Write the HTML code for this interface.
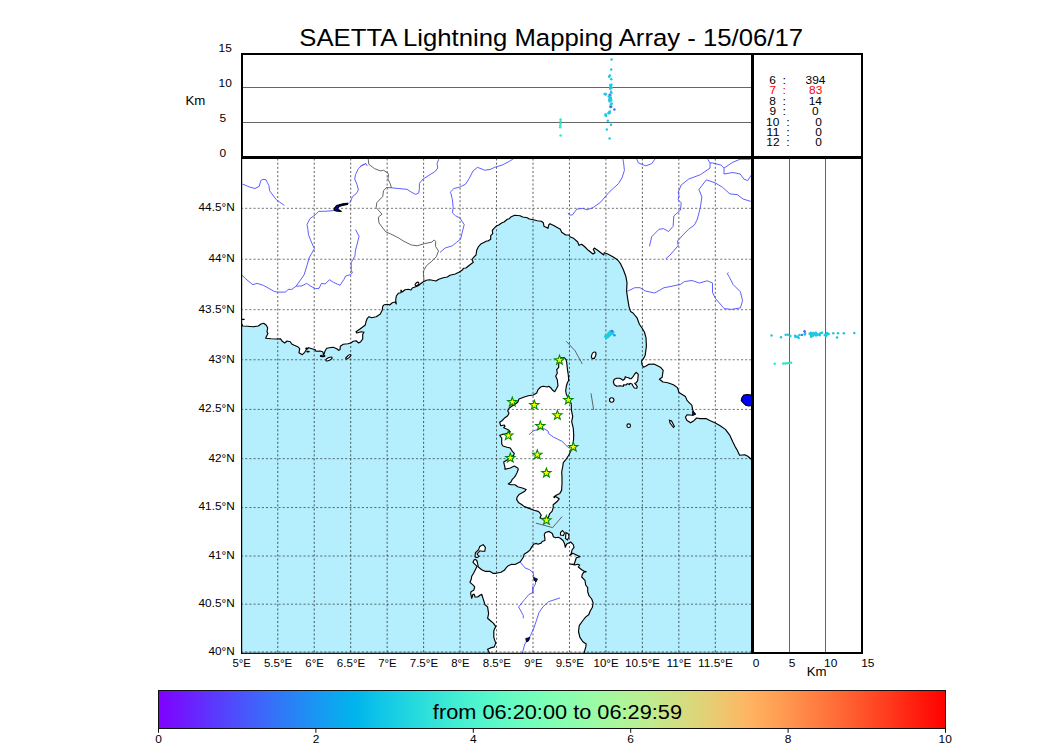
<!DOCTYPE html><html><head><meta charset="utf-8"><style>html,body{margin:0;padding:0;background:#fff;width:1050px;height:750px;overflow:hidden}svg{display:block}text{font-family:"Liberation Sans",sans-serif}</style></head><body>
<svg width="1050" height="750" viewBox="0 0 1050 750">
<rect width="1050" height="750" fill="#fff"/>
<text x="299.29" y="45.70" font-size="24.30" fill="#000" textLength="503.69" lengthAdjust="spacingAndGlyphs">SAETTA Lightning Mapping Array - 15/06/17</text>
<defs><clipPath id="mc"><rect x="241" y="157" width="511" height="496"/></clipPath></defs>
<g clip-path="url(#mc)">
<rect x="241" y="157" width="511" height="496" fill="#b5eefc"/>
<polygon points="230.0,157.0 760.0,157.0 760.0,463.0 756.0,463.0 751.2,459.3 747.8,456.3 744.8,454.8 739.6,455.2 737.3,450.3 735.1,446.6 732.9,442.1 729.9,435.4 725.4,429.4 720.2,425.7 714.9,422.7 709.7,420.5 706.0,418.6 700.0,418.6 696.6,418.0 694.2,420.4 690.6,422.8 687.0,420.4 685.4,417.2 687.0,414.8 692.6,415.2 695.4,414.0 693.4,411.6 692.6,409.2 691.8,405.2 689.4,402.8 687.0,400.4 685.4,396.4 682.2,394.4 679.0,392.4 677.4,387.6 673.4,384.8 667.8,382.8 663.0,382.0 659.4,379.2 662.2,377.2 662.6,374.0 663.2,370.4 660.4,367.2 654.0,364.0 648.4,364.4 646.0,366.0 643.6,367.2 642.0,364.8 641.6,360.8 643.2,359.2 645.2,355.2 646.4,346.4 646.0,337.6 644.4,332.0 642.0,328.0 639.4,324.2 637.0,317.8 633.0,313.0 630.6,311.4 629.0,306.6 627.8,299.4 626.6,291.4 627.0,282.6 625.8,276.2 623.4,269.8 620.3,263.3 617.7,260.0 613.7,257.3 608.3,254.3 604.3,252.7 603.7,255.0 598.3,250.7 594.3,248.0 593.3,249.3 595.0,252.7 593.0,254.0 588.3,250.3 585.0,247.0 581.7,244.3 579.0,245.3 577.7,242.0 573.7,238.3 570.3,237.0 569.0,235.0 565.7,235.0 561.7,232.3 560.3,229.3 555.0,226.3 554.7,226.0 550.0,223.7 548.7,225.0 548.0,228.3 544.0,226.3 543.3,222.7 541.3,221.3 537.3,220.7 533.3,219.7 529.3,219.0 527.3,217.7 522.7,217.0 520.0,215.7 514.7,215.3 511.3,216.7 509.3,218.7 507.3,219.3 504.0,222.0 502.0,222.7 498.7,225.0 496.7,225.7 494.0,228.3 492.3,230.3 492.7,233.7 490.7,235.7 490.7,239.3 488.0,241.0 486.7,241.0 481.3,243.7 478.7,246.3 476.7,250.3 476.0,255.0 473.3,257.7 472.0,259.7 473.3,262.3 468.7,265.7 466.0,268.0 463.3,268.3 462.7,269.7 459.3,272.0 455.3,274.0 450.0,275.3 447.3,277.0 443.3,277.7 438.7,279.3 436.0,281.0 429.7,279.7 426.3,280.3 423.0,282.0 420.3,284.0 417.7,286.0 415.0,287.0 412.3,288.0 411.0,290.0 408.3,289.3 405.0,289.7 402.3,292.0 401.0,290.0 401.0,292.7 398.3,293.3 396.3,296.0 395.7,300.0 396.3,304.0 395.0,302.0 392.3,302.7 389.7,305.0 387.7,304.3 384.3,304.7 382.7,306.3 382.3,310.0 380.3,314.0 376.3,316.7 371.7,317.7 369.0,316.7 367.3,318.3 366.0,321.7 365.3,325.0 362.7,327.0 360.0,329.0 356.0,331.7 356.7,333.0 361.3,331.7 364.0,332.3 362.7,334.3 362.7,339.0 360.7,341.7 358.7,343.0 356.0,340.7 353.3,341.3 350.7,343.0 348.0,343.7 343.3,344.3 340.3,346.3 340.0,349.7 338.7,350.3 336.7,348.7 333.3,347.3 329.3,347.7 326.7,348.3 325.0,351.0 323.7,355.0 322.7,351.7 320.0,351.0 316.0,351.3 315.3,349.7 312.0,348.7 308.7,347.7 306.7,349.0 304.7,352.3 302.3,354.7 299.0,352.7 299.7,348.7 297.7,346.7 294.3,345.3 291.7,344.0 290.3,341.7 287.0,341.0 284.7,343.0 282.3,341.3 280.3,338.7 277.0,339.0 271.0,338.7 265.7,338.3 266.3,336.7 268.0,333.3 267.0,332.0 267.3,330.0 267.7,328.0 266.3,325.3 263.7,323.3 261.0,324.0 258.3,326.0 253.0,326.7 247.7,326.3 242.7,326.0 241.4,323.3 240.0,323.3 230.0,323.3" fill="#fff" stroke="none"/>
<polygon points="489.5,654.0 489.5,653.0 487.6,649.3 490.5,647.9 494.3,646.9 495.7,643.1 493.8,637.4 493.8,630.7 495.7,626.4 493.3,623.1 490.5,620.7 487.6,618.3 488.6,613.6 487.6,606.9 485.0,604.7 483.0,598.3 481.7,594.3 480.3,595.0 477.7,597.0 475.0,597.0 474.3,594.3 473.0,594.3 471.7,598.3 470.7,593.7 471.0,591.7 473.7,590.3 474.7,587.0 473.7,585.7 470.0,582.3 471.3,579.0 471.7,576.3 473.7,573.0 475.7,569.0 477.0,566.3 475.0,564.3 473.0,562.3 474.0,560.0 475.5,559.3 477.0,561.0 477.5,563.0 478.3,567.0 481.7,569.7 485.0,571.3 489.7,571.3 493.0,573.3 496.3,573.3 501.0,572.3 504.3,570.3 506.3,567.7 508.3,565.7 511.7,564.3 515.0,564.5 520.3,561.8 523.5,557.0 524.1,554.3 527.3,552.2 529.9,550.1 531.5,547.4 533.7,544.2 536.3,543.4 537.9,544.2 541.1,543.1 542.2,541.5 544.9,540.5 544.9,538.3 544.3,534.6 545.4,532.5 549.1,531.4 552.3,533.5 553.4,536.7 555.5,537.8 558.2,537.3 560.3,538.3 563.0,540.5 564.6,543.7 565.3,547.3 566.7,544.0 570.7,542.0 573.3,544.7 574.0,547.3 572.0,550.0 571.3,553.3 570.0,555.3 572.7,553.3 576.0,554.7 580.0,556.7 576.3,557.7 575.0,561.7 574.3,564.3 569.7,564.0 575.0,565.0 577.7,564.3 579.7,565.0 578.3,567.0 581.7,569.7 583.7,571.0 586.3,571.7 583.7,572.3 582.3,574.3 581.7,577.0 585.0,580.3 585.7,585.0 587.7,587.7 587.7,591.7 589.0,595.7 591.7,599.0 593.1,602.9 592.4,607.3 590.2,611.0 588.7,614.7 585.8,616.9 582.9,620.5 579.2,625.7 578.5,631.5 579.9,637.4 582.9,641.8 586.2,644.0 585.8,646.9 584.3,652.1 584.0,654.0 584.0,660.0 489.5,660.0" fill="#fff" stroke="none"/>
<polygon points="559.3,357.7 564.3,357.7 566.0,359.7 566.7,362.3 567.3,368.3 568.3,375.0 568.7,380.3 567.3,383.0 566.3,386.3 565.7,391.0 566.3,394.3 568.0,397.7 568.5,399.5 571.3,403.7 571.3,409.7 572.7,416.3 571.7,421.7 573.3,428.3 573.7,435.0 573.5,440.0 572.7,446.7 570.7,451.3 568.7,455.3 566.0,459.3 563.3,462.7 562.7,466.7 561.7,472.0 562.0,477.3 562.0,483.3 561.6,490.4 559.8,493.4 556.2,495.2 553.8,497.0 554.4,497.6 555.6,496.4 559.2,498.8 557.4,501.2 553.2,504.8 553.2,507.8 552.0,511.4 549.6,513.8 548.4,517.4 543.0,518.6 540.0,518.0 541.2,515.0 540.0,513.2 538.2,511.4 534.0,510.2 529.2,508.4 524.4,506.6 522.0,504.8 518.4,502.4 516.6,499.4 517.2,497.0 519.0,494.6 524.4,491.6 526.2,489.5 522.3,488.0 517.7,486.7 515.0,484.7 511.0,484.7 508.3,484.0 511.0,482.0 512.3,479.3 514.3,477.3 515.7,475.3 517.0,472.7 518.3,469.3 517.7,468.0 514.3,466.0 510.3,468.0 505.0,469.3 505.0,467.3 504.3,464.7 503.7,462.0 507.0,460.0 511.0,457.3 513.7,455.3 514.3,453.3 512.3,451.3 510.3,448.0 507.0,447.3 503.0,446.0 501.7,444.0 501.7,440.0 501.7,438.3 499.7,435.3 505.7,433.7 510.3,432.0 508.3,429.7 503.7,427.7 505.0,426.3 504.3,425.0 500.7,425.7 499.7,422.3 501.7,421.0 505.0,417.7 507.7,415.7 509.0,413.0 507.7,411.0 509.0,408.3 511.7,406.3 515.0,404.3 517.7,402.3 519.0,399.0 524.3,397.0 528.3,395.7 533.3,395.0 536.7,393.0 538.0,389.7 540.7,387.0 543.3,386.3 547.3,387.0 548.7,386.3 550.7,387.7 552.7,390.3 554.7,391.7 556.7,388.3 558.0,385.7 557.3,379.7 555.7,376.3 557.3,373.0 556.7,369.7 558.7,367.3 558.7,365.0" fill="#fff" stroke="none"/>
<polygon points="613.3,382.0 614.3,379.3 616.7,378.3 619.7,378.2 621.7,379.3 623.0,380.3 624.7,379.0 625.3,376.7 626.3,377.3 628.7,377.7 630.0,378.7 631.3,378.7 633.3,376.3 634.7,374.0 636.3,372.3 638.3,374.3 638.0,377.3 637.7,380.7 636.3,382.7 634.7,383.3 636.3,385.0 637.3,386.7 636.7,388.3 634.3,388.0 633.0,386.0 632.0,384.0 630.0,383.3 629.3,384.7 628.7,384.0 627.3,383.7 626.0,385.0 623.7,384.7 623.3,386.3 620.0,385.7 616.7,386.3 614.3,384.7" fill="#fff" stroke="none"/>
<path d="M277.76,652.2V157M314.23,652.2V157M350.69,652.2V157M387.15,652.2V157M423.61,652.2V157M460.07,652.2V157M496.54,652.2V157M533.00,652.2V157M569.46,652.2V157M605.92,652.2V157M642.39,652.2V157M678.85,652.2V157M715.31,652.2V157" stroke="#000" stroke-opacity="0.62" stroke-width="1" stroke-dasharray="2.0833,2.0833" fill="none"/>
<path d="M241,651.95H752M241,604.18H752M241,556.04H752M241,507.55H752M241,458.67H752M241,409.41H752M241,359.76H752M241,309.70H752M241,259.22H752M241,208.32H752" stroke="#000" stroke-opacity="0.55" stroke-width="1" stroke-dasharray="2.0833,2.0833" fill="none"/>
<polyline points="240.0,323.3 241.4,323.3 242.7,326.0 247.7,326.3 253.0,326.7 258.3,326.0 261.0,324.0 263.7,323.3 266.3,325.3 267.7,328.0 267.3,330.0 267.0,332.0 268.0,333.3 266.3,336.7 265.7,338.3 271.0,338.7 277.0,339.0 280.3,338.7 282.3,341.3 284.7,343.0 287.0,341.0 290.3,341.7 291.7,344.0 294.3,345.3 297.7,346.7 299.7,348.7 299.0,352.7 302.3,354.7 304.7,352.3 306.7,349.0 308.7,347.7 312.0,348.7 315.3,349.7 316.0,351.3 320.0,351.0 322.7,351.7 323.7,355.0 325.0,351.0 326.7,348.3 329.3,347.7 333.3,347.3 336.7,348.7 338.7,350.3 340.0,349.7 340.3,346.3 343.3,344.3 348.0,343.7 350.7,343.0 353.3,341.3 356.0,340.7 358.7,343.0 360.7,341.7 362.7,339.0 362.7,334.3 364.0,332.3 361.3,331.7 356.7,333.0 356.0,331.7 360.0,329.0 362.7,327.0 365.3,325.0 366.0,321.7 367.3,318.3 369.0,316.7 371.7,317.7 376.3,316.7 380.3,314.0 382.3,310.0 382.7,306.3 384.3,304.7 387.7,304.3 389.7,305.0 392.3,302.7 395.0,302.0 396.3,304.0 395.7,300.0 396.3,296.0 398.3,293.3 401.0,292.7 401.0,290.0 402.3,292.0 405.0,289.7 408.3,289.3 411.0,290.0 412.3,288.0 415.0,287.0 417.7,286.0 420.3,284.0 423.0,282.0 426.3,280.3 429.7,279.7 436.0,281.0 438.7,279.3 443.3,277.7 447.3,277.0 450.0,275.3 455.3,274.0 459.3,272.0 462.7,269.7 463.3,268.3 466.0,268.0 468.7,265.7 473.3,262.3 472.0,259.7 473.3,257.7 476.0,255.0 476.7,250.3 478.7,246.3 481.3,243.7 486.7,241.0 488.0,241.0 490.7,239.3 490.7,235.7 492.7,233.7 492.3,230.3 494.0,228.3 496.7,225.7 498.7,225.0 502.0,222.7 504.0,222.0 507.3,219.3 509.3,218.7 511.3,216.7 514.7,215.3 520.0,215.7 522.7,217.0 527.3,217.7 529.3,219.0 533.3,219.7 537.3,220.7 541.3,221.3 543.3,222.7 544.0,226.3 548.0,228.3 548.7,225.0 550.0,223.7 554.7,226.0 555.0,226.3 560.3,229.3 561.7,232.3 565.7,235.0 569.0,235.0 570.3,237.0 573.7,238.3 577.7,242.0 579.0,245.3 581.7,244.3 585.0,247.0 588.3,250.3 593.0,254.0 595.0,252.7 593.3,249.3 594.3,248.0 598.3,250.7 603.7,255.0 604.3,252.7 608.3,254.3 613.7,257.3 617.7,260.0 620.3,263.3 623.4,269.8 625.8,276.2 627.0,282.6 626.6,291.4 627.8,299.4 629.0,306.6 630.6,311.4 633.0,313.0 637.0,317.8 639.4,324.2 642.0,328.0 644.4,332.0 646.0,337.6 646.4,346.4 645.2,355.2 643.2,359.2 641.6,360.8 642.0,364.8 643.6,367.2 646.0,366.0 648.4,364.4 654.0,364.0 660.4,367.2 663.2,370.4 662.6,374.0 662.2,377.2 659.4,379.2 663.0,382.0 667.8,382.8 673.4,384.8 677.4,387.6 679.0,392.4 682.2,394.4 685.4,396.4 687.0,400.4 689.4,402.8 691.8,405.2 692.6,409.2 693.4,411.6 695.4,414.0 692.6,415.2 687.0,414.8 685.4,417.2 687.0,420.4 690.6,422.8 694.2,420.4 696.6,418.0 700.0,418.6 706.0,418.6 709.7,420.5 714.9,422.7 720.2,425.7 725.4,429.4 729.9,435.4 732.9,442.1 735.1,446.6 737.3,450.3 739.6,455.2 744.8,454.8 747.8,456.3 751.2,459.3 756.0,463.0" fill="none" stroke="#000" stroke-width="1.15" stroke-linejoin="round"/>
<polygon points="559.3,357.7 564.3,357.7 566.0,359.7 566.7,362.3 567.3,368.3 568.3,375.0 568.7,380.3 567.3,383.0 566.3,386.3 565.7,391.0 566.3,394.3 568.0,397.7 568.5,399.5 571.3,403.7 571.3,409.7 572.7,416.3 571.7,421.7 573.3,428.3 573.7,435.0 573.5,440.0 572.7,446.7 570.7,451.3 568.7,455.3 566.0,459.3 563.3,462.7 562.7,466.7 561.7,472.0 562.0,477.3 562.0,483.3 561.6,490.4 559.8,493.4 556.2,495.2 553.8,497.0 554.4,497.6 555.6,496.4 559.2,498.8 557.4,501.2 553.2,504.8 553.2,507.8 552.0,511.4 549.6,513.8 548.4,517.4 543.0,518.6 540.0,518.0 541.2,515.0 540.0,513.2 538.2,511.4 534.0,510.2 529.2,508.4 524.4,506.6 522.0,504.8 518.4,502.4 516.6,499.4 517.2,497.0 519.0,494.6 524.4,491.6 526.2,489.5 522.3,488.0 517.7,486.7 515.0,484.7 511.0,484.7 508.3,484.0 511.0,482.0 512.3,479.3 514.3,477.3 515.7,475.3 517.0,472.7 518.3,469.3 517.7,468.0 514.3,466.0 510.3,468.0 505.0,469.3 505.0,467.3 504.3,464.7 503.7,462.0 507.0,460.0 511.0,457.3 513.7,455.3 514.3,453.3 512.3,451.3 510.3,448.0 507.0,447.3 503.0,446.0 501.7,444.0 501.7,440.0 501.7,438.3 499.7,435.3 505.7,433.7 510.3,432.0 508.3,429.7 503.7,427.7 505.0,426.3 504.3,425.0 500.7,425.7 499.7,422.3 501.7,421.0 505.0,417.7 507.7,415.7 509.0,413.0 507.7,411.0 509.0,408.3 511.7,406.3 515.0,404.3 517.7,402.3 519.0,399.0 524.3,397.0 528.3,395.7 533.3,395.0 536.7,393.0 538.0,389.7 540.7,387.0 543.3,386.3 547.3,387.0 548.7,386.3 550.7,387.7 552.7,390.3 554.7,391.7 556.7,388.3 558.0,385.7 557.3,379.7 555.7,376.3 557.3,373.0 556.7,369.7 558.7,367.3 558.7,365.0" fill="none" stroke="#000" stroke-width="1.15" stroke-linejoin="round"/>
<polygon points="613.3,382.0 614.3,379.3 616.7,378.3 619.7,378.2 621.7,379.3 623.0,380.3 624.7,379.0 625.3,376.7 626.3,377.3 628.7,377.7 630.0,378.7 631.3,378.7 633.3,376.3 634.7,374.0 636.3,372.3 638.3,374.3 638.0,377.3 637.7,380.7 636.3,382.7 634.7,383.3 636.3,385.0 637.3,386.7 636.7,388.3 634.3,388.0 633.0,386.0 632.0,384.0 630.0,383.3 629.3,384.7 628.7,384.0 627.3,383.7 626.0,385.0 623.7,384.7 623.3,386.3 620.0,385.7 616.7,386.3 614.3,384.7" fill="none" stroke="#000" stroke-width="1.15" stroke-linejoin="round"/>
<polyline points="489.5,654.0 489.5,653.0 487.6,649.3 490.5,647.9 494.3,646.9 495.7,643.1 493.8,637.4 493.8,630.7 495.7,626.4 493.3,623.1 490.5,620.7 487.6,618.3 488.6,613.6 487.6,606.9 485.0,604.7 483.0,598.3 481.7,594.3 480.3,595.0 477.7,597.0 475.0,597.0 474.3,594.3 473.0,594.3 471.7,598.3 470.7,593.7 471.0,591.7 473.7,590.3 474.7,587.0 473.7,585.7 470.0,582.3 471.3,579.0 471.7,576.3 473.7,573.0 475.7,569.0 477.0,566.3 475.0,564.3 473.0,562.3 474.0,560.0 475.5,559.3 477.0,561.0 477.5,563.0 478.3,567.0 481.7,569.7 485.0,571.3 489.7,571.3 493.0,573.3 496.3,573.3 501.0,572.3 504.3,570.3 506.3,567.7 508.3,565.7 511.7,564.3 515.0,564.5 520.3,561.8 523.5,557.0 524.1,554.3 527.3,552.2 529.9,550.1 531.5,547.4 533.7,544.2 536.3,543.4 537.9,544.2 541.1,543.1 542.2,541.5 544.9,540.5 544.9,538.3 544.3,534.6 545.4,532.5 549.1,531.4 552.3,533.5 553.4,536.7 555.5,537.8 558.2,537.3 560.3,538.3 563.0,540.5 564.6,543.7 565.3,547.3 566.7,544.0 570.7,542.0 573.3,544.7 574.0,547.3 572.0,550.0 571.3,553.3 570.0,555.3 572.7,553.3 576.0,554.7 580.0,556.7 576.3,557.7 575.0,561.7 574.3,564.3 569.7,564.0 575.0,565.0 577.7,564.3 579.7,565.0 578.3,567.0 581.7,569.7 583.7,571.0 586.3,571.7 583.7,572.3 582.3,574.3 581.7,577.0 585.0,580.3 585.7,585.0 587.7,587.7 587.7,591.7 589.0,595.7 591.7,599.0 593.1,602.9 592.4,607.3 590.2,611.0 588.7,614.7 585.8,616.9 582.9,620.5 579.2,625.7 578.5,631.5 579.9,637.4 582.9,641.8 586.2,644.0 585.8,646.9 584.3,652.1 584.0,654.0" fill="none" stroke="#000" stroke-width="1.15" stroke-linejoin="round"/>
<g fill="#fff" stroke="#000" stroke-width="1.1"><ellipse cx="593.7" cy="355.3" rx="2.0" ry="3.4" transform="rotate(20 593.7 355.3)"/><ellipse cx="611.7" cy="400" rx="2.2" ry="2.2"/><ellipse cx="628.7" cy="425.7" rx="1.8" ry="1.8"/><ellipse cx="322.6" cy="355.9" rx="2.4" ry="0.7"/><ellipse cx="329" cy="359" rx="3.4" ry="1.3" transform="rotate(-25 329 359)"/><ellipse cx="348.3" cy="356.8" rx="3.2" ry="1.1" transform="rotate(-40 348.3 356.8)"/><ellipse cx="417" cy="284" rx="2.2" ry="1.3" transform="rotate(-40 417 284)"/><polygon points="669.5,420.2 671.5,421 674.4,426.5 673.5,427.5 670,423"/><polygon points="483.2,544.6 485.4,547.4 484.8,551.2 482.2,551.2 479.8,550.8 477,554 479,556.4 477,557.6 475,556.8 475.4,552.8 478.6,549.6 479.8,546.4"/><polygon points="562.5,530.5 564.5,533 563.5,535.5 560.5,535 560.5,532.5"/><polygon points="566,532.5 568.5,534 569,537 567.5,540 565.5,538.5"/></g>
<path d="M241,319.4H244.6" stroke="#000" stroke-width="1.3"/>
<g fill="#000"><ellipse cx="306.8" cy="348.5" rx="1.6" ry="1"/><ellipse cx="308" cy="351.6" rx="1.8" ry="0.9"/></g>
<polyline points="368.0,157.0 368.8,164.3 374.7,168.7 380.5,170.9 383.5,170.2 387.9,173.1 388.6,174.6 387.9,179.0 390.1,183.4 391.5,187.8 386.4,187.5 383.5,190.7 382.7,196.6 376.9,202.5 376.1,207.6 382.0,214.2 378.3,217.2 379.0,223.0 385.7,231.8 390.8,234.0 398.2,237.7 404.0,241.4 411.4,245.0 417.2,245.8 424.6,243.6 431.9,242.1 434.1,239.9 435.6,241.4 435.6,246.5 438.5,250.9 436.3,256.8 431.9,261.2 426.5,265.6 423.3,271.3 424.0,280.7" fill="none" stroke="#555" stroke-width="0.9" stroke-linejoin="round"/>
<polyline points="566.3,341.3 575.0,350.7 582.3,364.0" fill="none" stroke="#555" stroke-width="0.9" stroke-linejoin="round"/>
<polyline points="591.0,393.3 593.7,410.0" fill="none" stroke="#555" stroke-width="0.9" stroke-linejoin="round"/>
<polyline points="535.8,523.1 552.6,527.6 562.2,516.5" fill="none" stroke="#555" stroke-width="0.9" stroke-linejoin="round"/>
<polyline points="242.5,184.1 249.8,187.1 254.9,188.5 259.3,186.3 260.8,180.5 263.0,179.3 266.0,179.7 267.4,182.7 268.9,185.6 269.6,190.7 276.2,199.6 284.3,205.4" fill="none" stroke="#4d4dff" stroke-width="0.9" stroke-linejoin="round"/>
<polyline points="360.0,166.5 364.4,164.3 365.9,163.6 367.3,165.8" fill="none" stroke="#4d4dff" stroke-width="0.9" stroke-linejoin="round"/>
<polyline points="365.7,163.6 361.3,165.8 358.4,168.7 355.5,174.6 354.7,179.0 356.9,184.1 358.4,190.0 356.2,193.7 352.5,196.6 350.3,201.8 349.6,203.2" fill="none" stroke="#4d4dff" stroke-width="0.9" stroke-linejoin="round"/>
<polyline points="333.4,210.6 324.6,211.3 318.8,211.3 315.1,215.0 310.0,218.6 307.0,224.5 307.8,228.9 308.5,234.8 311.4,242.1 314.4,248.7 311.4,253.8 309.1,258.0 307.2,264.9 304.1,274.8 296.1,286.2" fill="none" stroke="#4d4dff" stroke-width="0.9" stroke-linejoin="round"/>
<polyline points="355.5,229.6 359.1,236.2 356.9,245.0 355.5,250.0 354.9,256.2 351.2,262.4 351.2,269.8 352.4,272.9 350.0,274.8" fill="none" stroke="#4d4dff" stroke-width="0.9" stroke-linejoin="round"/>
<polyline points="242.2,275.4 246.0,279.1 252.8,284.7 257.1,283.4 263.3,285.3 274.4,291.5 278.1,292.1 285.6,292.1 288.0,289.4 291.8,289.4 296.1,286.2 301.7,285.9 306.6,283.4 310.3,285.9 315.3,288.6 319.0,288.4 321.5,283.4 325.2,284.0 329.5,279.7 333.2,282.2 340.0,285.3 343.8,279.7 345.6,276.0 350.0,274.8" fill="none" stroke="#4d4dff" stroke-width="0.9" stroke-linejoin="round"/>
<polyline points="391.5,187.8 398.2,188.5 407.0,189.3 411.4,192.2 415.8,194.4 418.7,193.0 419.4,188.5 419.4,183.4 423.1,179.0 429.0,175.3 434.8,171.7 437.8,168.0 437.0,163.6 438.5,159.9 439.0,157.0" fill="none" stroke="#4d4dff" stroke-width="0.9" stroke-linejoin="round"/>
<polyline points="440.0,252.4 445.1,248.0 452.4,245.8 456.8,242.1 460.5,239.2 462.0,233.3 464.2,224.5 459.8,217.9 455.4,215.7 452.4,212.8 453.2,207.6 452.4,199.6 451.0,193.7 450.2,192.2 453.9,188.5 459.8,187.1 465.6,184.1 469.3,178.3 473.0,171.0 477.4,167.3 484.7,170.2 490.0,169.5 494.7,167.3 502.0,165.1 509.3,161.4 513.7,158.5 515.0,157.0" fill="none" stroke="#4d4dff" stroke-width="0.9" stroke-linejoin="round"/>
<polyline points="568.0,212.8 569.5,215.0 572.4,215.0 576.8,209.1 582.7,208.4 587.1,209.8 593.0,207.6 600.3,202.5 608.9,192.4 618.5,183.6 622.1,177.7 624.4,170.3 623.6,162.9 622.9,159.2 622.5,157.0" fill="none" stroke="#4d4dff" stroke-width="0.9" stroke-linejoin="round"/>
<polyline points="636.2,158.0 638.4,162.9 645.8,165.9 651.7,163.6 655.4,158.5" fill="none" stroke="#4d4dff" stroke-width="0.9" stroke-linejoin="round"/>
<polyline points="649.5,246.3 651.7,236.7 659.0,229.3 663.5,228.6 668.6,231.5 673.1,226.4 673.8,216.0 680.5,210.1 681.2,202.8 678.2,199.8 679.0,195.4 678.2,192.4 681.2,185.0 688.6,179.1 700.4,174.7 710.0,168.1 710.0,162.9 707.8,159.2 706.0,157.0" fill="none" stroke="#4d4dff" stroke-width="0.9" stroke-linejoin="round"/>
<polyline points="710.0,163.0 712.2,162.9 721.1,165.1 724.0,168.1 724.0,174.0 732.9,172.5 740.2,174.0 743.9,179.1 747.6,180.6 750.6,176.2 752.0,174.0" fill="none" stroke="#4d4dff" stroke-width="0.9" stroke-linejoin="round"/>
<polyline points="724.0,168.1 732.9,162.2 740.2,159.2 750.6,159.2" fill="none" stroke="#4d4dff" stroke-width="0.9" stroke-linejoin="round"/>
<polyline points="665.7,258.9 670.0,255.1 678.2,245.6 677.5,241.1 682.7,235.2 688.6,229.3 694.5,224.9 697.4,219.0 700.4,207.2 701.9,196.9 698.9,189.5 706.3,179.9 715.1,182.8 722.5,187.3 729.9,193.9 737.3,194.6 743.2,199.1 750.6,201.3 752.0,201.5" fill="none" stroke="#4d4dff" stroke-width="0.9" stroke-linejoin="round"/>
<polyline points="627.3,291.4 634.7,287.7 640.0,287.7 645.3,291.0 654.7,293.0 664.0,287.7 670.0,286.6 680.3,284.4 684.7,281.5 692.0,280.5 699.3,283.0 707.4,280.8 712.5,283.0 712.5,292.5 715.4,298.4 724.2,308.6 731.6,309.4 740.4,307.9 742.6,300.6 740.4,291.8 733.0,284.4 729.4,277.1 727.2,273.5 728.6,272.7" fill="none" stroke="#4d4dff" stroke-width="0.9" stroke-linejoin="round"/>
<polyline points="529.0,434.7 533.7,430.7 540.3,428.7 543.3,428.3 548.0,431.0 548.7,433.7 553.3,437.0 557.3,439.0 562.7,441.7 565.3,444.7 569.5,448.5" fill="none" stroke="#4d4dff" stroke-width="0.9" stroke-linejoin="round"/>
<polyline points="520.2,562.1 525.0,567.9 529.8,569.8 533.1,572.6 533.6,576.4 535.5,579.8 535.5,584.0 533.1,587.9 532.6,592.6 528.8,594.5 524.8,599.3 518.6,606.9 523.3,615.5 523.3,618.3" fill="none" stroke="#4d4dff" stroke-width="0.9" stroke-linejoin="round"/>
<polyline points="533.3,593.1 532.4,586.4" fill="none" stroke="#4d4dff" stroke-width="0.9" stroke-linejoin="round"/>
<polyline points="560.0,597.9 548.6,601.7 542.9,606.9 539.0,612.6 536.2,621.2 534.3,626.9 530.5,635.5 527.5,640.0 524.8,644.0 522.4,653.0" fill="none" stroke="#4d4dff" stroke-width="0.9" stroke-linejoin="round"/>
<polygon points="347.9,203.4 344,203.6 340,204.6 336.6,205.6 334.6,208 333.9,210.1 336.8,211.1 341.3,211.4 339.2,210.1 337.2,209.2 338.8,206.8 342.7,205.3 347.4,204.5" fill="#0000dd" stroke="#000" stroke-width="1.2" stroke-linejoin="round"/>
<polygon points="692.4,411.4 695.6,414.2 692.6,415.4" fill="#0000cc" stroke="#000" stroke-width="0.8"/>
<polygon points="533.5,577.5 537.5,579 536,582 534,580" fill="#0000aa" stroke="#000" stroke-width="0.8"/>
<polygon points="525.7,638.5 530,637.5 528.5,641 526.5,642" fill="#0000aa" stroke="#000" stroke-width="0.8"/>
<g fill="#1ccde0"><circle cx="606.8" cy="335.9" r="1.4"/><circle cx="609.7" cy="333.0" r="1.4"/><circle cx="606.0" cy="336.9" r="1.4"/><circle cx="608.0" cy="336.2" r="1.4"/><circle cx="611.0" cy="333.1" r="1.4"/><circle cx="606.4" cy="337.7" r="1.4"/><circle cx="609.4" cy="335.0" r="1.4"/><circle cx="606.1" cy="337.5" r="1.4"/><circle cx="605.9" cy="336.8" r="1.4"/><circle cx="609.0" cy="335.8" r="1.4"/><circle cx="611.2" cy="333.2" r="1.4"/><circle cx="610.6" cy="334.1" r="1.4"/><circle cx="610.3" cy="331.6" r="1.4"/><circle cx="607.8" cy="336.2" r="1.4"/><circle cx="609.0" cy="334.0" r="1.4"/><circle cx="607.4" cy="335.6" r="1.4"/><circle cx="610.3" cy="334.7" r="1.4"/><circle cx="612.6" cy="333.5" r="1.4"/><circle cx="609.0" cy="334.6" r="1.4"/><circle cx="613.0" cy="332.2" r="1.4"/><circle cx="609.4" cy="334.3" r="1.4"/><circle cx="608.6" cy="333.1" r="1.4"/><circle cx="612.4" cy="331.6" r="1.4"/><circle cx="610.5" cy="332.0" r="1.4"/><circle cx="607.8" cy="336.9" r="1.4"/><circle cx="605.6" cy="336.2" r="1.4"/></g>
<circle cx="611.9" cy="331" r="1.2" fill="#6a60f0"/><circle cx="614.4" cy="335.2" r="1.3" fill="#3090f0"/>
<polygon points="559.5,355.2 560.7,358.6 564.2,358.7 561.4,360.8 562.4,364.2 559.5,362.2 556.6,364.2 557.6,360.8 554.8,358.7 558.3,358.6" fill="#ffff00" stroke="#008800" stroke-width="1.05" stroke-linejoin="miter"/>
<polygon points="512.3,397.1 513.5,400.4 517.0,400.5 514.2,402.6 515.2,406.0 512.3,404.0 509.4,406.0 510.4,402.6 507.6,400.5 511.1,400.4" fill="#ffff00" stroke="#008800" stroke-width="1.05" stroke-linejoin="miter"/>
<polygon points="534.3,400.2 535.5,403.5 539.0,403.6 536.2,405.7 537.2,409.1 534.3,407.1 531.4,409.1 532.4,405.7 529.6,403.6 533.1,403.5" fill="#ffff00" stroke="#008800" stroke-width="1.05" stroke-linejoin="miter"/>
<polygon points="568.3,395.1 569.5,398.4 573.0,398.5 570.2,400.6 571.2,404.0 568.3,402.0 565.4,404.0 566.4,400.6 563.6,398.5 567.1,398.4" fill="#ffff00" stroke="#008800" stroke-width="1.05" stroke-linejoin="miter"/>
<polygon points="557.4,410.4 558.6,413.7 562.1,413.8 559.3,415.9 560.3,419.3 557.4,417.3 554.5,419.3 555.5,415.9 552.7,413.8 556.2,413.7" fill="#ffff00" stroke="#008800" stroke-width="1.05" stroke-linejoin="miter"/>
<polygon points="540.3,421.1 541.5,424.4 545.0,424.5 542.2,426.6 543.2,430.0 540.3,428.0 537.4,430.0 538.4,426.6 535.6,424.5 539.1,424.4" fill="#ffff00" stroke="#008800" stroke-width="1.05" stroke-linejoin="miter"/>
<polygon points="508.3,430.7 509.5,434.0 513.0,434.1 510.2,436.2 511.2,439.6 508.3,437.6 505.4,439.6 506.4,436.2 503.6,434.1 507.1,434.0" fill="#ffff00" stroke="#008800" stroke-width="1.05" stroke-linejoin="miter"/>
<polygon points="510.3,453.1 511.5,456.4 515.0,456.5 512.2,458.6 513.2,462.0 510.3,460.0 507.4,462.0 508.4,458.6 505.6,456.5 509.1,456.4" fill="#ffff00" stroke="#008800" stroke-width="1.05" stroke-linejoin="miter"/>
<polygon points="537.3,449.8 538.5,453.1 542.0,453.2 539.2,455.3 540.2,458.7 537.3,456.7 534.4,458.7 535.4,455.3 532.6,453.2 536.1,453.1" fill="#ffff00" stroke="#008800" stroke-width="1.05" stroke-linejoin="miter"/>
<polygon points="573.3,442.1 574.5,445.4 578.0,445.5 575.2,447.6 576.2,451.0 573.3,449.0 570.4,451.0 571.4,447.6 568.6,445.5 572.1,445.4" fill="#ffff00" stroke="#008800" stroke-width="1.05" stroke-linejoin="miter"/>
<polygon points="546.4,468.1 547.6,471.4 551.1,471.5 548.3,473.6 549.3,477.0 546.4,475.0 543.5,477.0 544.5,473.6 541.7,471.5 545.2,471.4" fill="#ffff00" stroke="#008800" stroke-width="1.05" stroke-linejoin="miter"/>
<polygon points="546.4,515.3 547.6,518.7 551.1,518.8 548.3,520.9 549.3,524.3 546.4,522.3 543.5,524.3 544.5,520.9 541.7,518.8 545.2,518.7" fill="#ffff00" stroke="#008800" stroke-width="1.05" stroke-linejoin="miter"/>
<polygon points="741.3,400.7 742,397.5 743.8,395.2 747,394.5 752,395 754,400 752,405.5 748.9,406 745.7,405.2 743.8,403.3 742.2,401.7" fill="#0000ff" stroke="#000" stroke-width="1.2" stroke-linejoin="round"/>
</g>
<path d="M242,87.5H752M242,122.5H752" stroke="#666" stroke-width="1"/>
<g fill="#1ec8e0"><circle cx="611.6" cy="59.4" r="1.25"/><circle cx="611.2" cy="69.6" r="1.25"/><circle cx="609.8" cy="75.4" r="1.25"/><circle cx="609.2" cy="76.8" r="1.25"/><circle cx="611.2" cy="79.2" r="1.25"/><circle cx="611.0" cy="124.8" r="1.25"/><circle cx="606.8" cy="129.4" r="1.25"/><circle cx="609.6" cy="138.4" r="1.25"/><circle cx="607.8" cy="120.8" r="1.25"/><circle cx="610.9" cy="85.4" r="1.25"/><circle cx="611.4" cy="84.7" r="1.25"/><circle cx="611.2" cy="87.4" r="1.25"/><circle cx="610.4" cy="88.8" r="1.25"/><circle cx="610.4" cy="88.1" r="1.25"/><circle cx="610.4" cy="84.9" r="1.25"/><circle cx="611.0" cy="91.8" r="1.25"/><circle cx="610.5" cy="86.1" r="1.25"/><circle cx="611.4" cy="92.9" r="1.25"/><circle cx="611.3" cy="87.7" r="1.25"/><circle cx="605.8" cy="93.9" r="1.25"/><circle cx="605.6" cy="94.4" r="1.25"/><circle cx="604.7" cy="94.1" r="1.25"/><circle cx="609.6" cy="101.5" r="1.25"/><circle cx="609.2" cy="99.7" r="1.25"/><circle cx="610.8" cy="98.0" r="1.25"/><circle cx="610.5" cy="95.5" r="1.25"/><circle cx="608.8" cy="96.6" r="1.25"/><circle cx="610.9" cy="98.4" r="1.25"/><circle cx="609.7" cy="99.7" r="1.25"/><circle cx="610.1" cy="97.4" r="1.25"/><circle cx="611.3" cy="100.6" r="1.25"/><circle cx="609.4" cy="99.6" r="1.25"/><circle cx="610.5" cy="106.9" r="1.25"/><circle cx="611.0" cy="104.3" r="1.25"/><circle cx="611.7" cy="103.5" r="1.25"/><circle cx="610.2" cy="106.4" r="1.25"/><circle cx="608.8" cy="112.4" r="1.25"/><circle cx="608.7" cy="113.3" r="1.25"/><circle cx="609.7" cy="112.9" r="1.25"/><circle cx="609.8" cy="111.6" r="1.25"/><circle cx="605.7" cy="114.8" r="1.25"/><circle cx="605.5" cy="114.4" r="1.25"/><circle cx="606.0" cy="116.0" r="1.25"/></g>
<g fill="#30e6c4"><circle cx="560.6" cy="119.5" r="1.25"/><circle cx="560.6" cy="121.5" r="1.25"/><circle cx="560.5" cy="123.5" r="1.25"/><circle cx="560.3" cy="125.5" r="1.25"/><circle cx="560.2" cy="127.3" r="1.25"/><circle cx="560.6" cy="135.6" r="1.25"/></g>
<circle cx="611.2" cy="106.8" r="1.2" fill="#4a60f0"/><circle cx="614.4" cy="109.6" r="1.25" fill="#3a7af0"/><circle cx="609.6" cy="94.6" r="1.1" fill="#5a58f0"/>
<path d="M789.5,159V652M825.5,159V652" stroke="#666" stroke-width="1"/>
<g fill="#1ec8e0"><circle cx="771.5" cy="335.4" r="1.25"/><circle cx="781.0" cy="337.2" r="1.25"/><circle cx="785.7" cy="334.7" r="1.25"/><circle cx="787.8" cy="334.7" r="1.25"/><circle cx="790.4" cy="336.0" r="1.25"/><circle cx="826.0" cy="336.0" r="1.25"/><circle cx="828.6" cy="333.9" r="1.25"/><circle cx="833.3" cy="333.3" r="1.25"/><circle cx="838.0" cy="333.3" r="1.25"/><circle cx="837.0" cy="337.5" r="1.25"/><circle cx="843.8" cy="333.3" r="1.25"/><circle cx="854.3" cy="333.0" r="1.25"/><circle cx="797.6" cy="336.7" r="1.25"/><circle cx="795.3" cy="336.8" r="1.25"/><circle cx="798.6" cy="338.0" r="1.25"/><circle cx="799.5" cy="335.1" r="1.25"/><circle cx="797.1" cy="336.7" r="1.25"/><circle cx="795.1" cy="335.8" r="1.25"/><circle cx="805.1" cy="333.2" r="1.25"/><circle cx="804.7" cy="334.5" r="1.25"/><circle cx="805.0" cy="333.5" r="1.25"/><circle cx="816.7" cy="335.1" r="1.25"/><circle cx="811.0" cy="333.8" r="1.25"/><circle cx="819.7" cy="335.2" r="1.25"/><circle cx="824.7" cy="335.1" r="1.25"/><circle cx="814.7" cy="333.7" r="1.25"/><circle cx="816.1" cy="335.2" r="1.25"/><circle cx="827.2" cy="333.0" r="1.25"/><circle cx="812.8" cy="333.2" r="1.25"/><circle cx="813.8" cy="334.0" r="1.25"/><circle cx="820.4" cy="333.3" r="1.25"/><circle cx="809.6" cy="333.8" r="1.25"/><circle cx="816.3" cy="334.2" r="1.25"/><circle cx="827.1" cy="334.6" r="1.25"/><circle cx="819.0" cy="334.4" r="1.25"/><circle cx="822.0" cy="332.7" r="1.25"/><circle cx="826.1" cy="334.8" r="1.25"/><circle cx="825.7" cy="334.9" r="1.25"/><circle cx="816.8" cy="333.7" r="1.25"/><circle cx="811.4" cy="334.4" r="1.25"/><circle cx="810.7" cy="332.7" r="1.25"/><circle cx="813.4" cy="333.0" r="1.25"/><circle cx="815.8" cy="332.7" r="1.25"/><circle cx="811.0" cy="335.3" r="1.25"/><circle cx="811.8" cy="335.7" r="1.25"/><circle cx="811.2" cy="336.7" r="1.25"/><circle cx="815.6" cy="335.3" r="1.25"/><circle cx="812.9" cy="335.7" r="1.25"/></g>
<g fill="#30e6c4"><circle cx="774.7" cy="363.7" r="1.25"/><circle cx="783.2" cy="363.4" r="1.25"/><circle cx="785.2" cy="363.4" r="1.25"/><circle cx="787.2" cy="363.2" r="1.25"/><circle cx="789.2" cy="363.0" r="1.25"/><circle cx="791.0" cy="362.7" r="1.25"/></g>
<circle cx="801.9" cy="334.9" r="1.2" fill="#3a80f0"/><circle cx="804.5" cy="331.2" r="1.2" fill="#5a50f0"/>
<g fill="#000"><rect x="241" y="53" width="622" height="2"/><rect x="241" y="53" width="2" height="106"/><rect x="861" y="53" width="2" height="601"/><rect x="241" y="156" width="622" height="3"/><rect x="751" y="53" width="3" height="601"/><rect x="752" y="652" width="111" height="2"/><rect x="241" y="157" width="1.2" height="497"/><rect x="241" y="652.7" width="511" height="1.2"/></g>
<text x="769.35" y="84.00" font-size="11.05" fill="#000" textLength="6.63" lengthAdjust="spacingAndGlyphs">6</text>
<text x="782.64" y="84.00" font-size="11.05" fill="#000" textLength="3.51" lengthAdjust="spacingAndGlyphs">:</text>
<text x="805.55" y="84.00" font-size="11.05" fill="#000" textLength="19.89" lengthAdjust="spacingAndGlyphs">394</text>
<text x="769.40" y="93.80" font-size="11.05" fill="#f00" textLength="6.63" lengthAdjust="spacingAndGlyphs">7</text>
<text x="782.64" y="93.80" font-size="11.05" fill="#f00" textLength="3.51" lengthAdjust="spacingAndGlyphs">:</text>
<text x="809.03" y="93.80" font-size="11.05" fill="#f00" textLength="13.26" lengthAdjust="spacingAndGlyphs">83</text>
<text x="769.39" y="104.60" font-size="11.05" fill="#000" textLength="6.63" lengthAdjust="spacingAndGlyphs">8</text>
<text x="782.64" y="104.60" font-size="11.05" fill="#000" textLength="3.51" lengthAdjust="spacingAndGlyphs">:</text>
<text x="808.69" y="104.60" font-size="11.05" fill="#000" textLength="13.26" lengthAdjust="spacingAndGlyphs">14</text>
<text x="769.42" y="114.80" font-size="11.05" fill="#000" textLength="6.63" lengthAdjust="spacingAndGlyphs">9</text>
<text x="782.64" y="114.80" font-size="11.05" fill="#000" textLength="3.51" lengthAdjust="spacingAndGlyphs">:</text>
<text x="811.99" y="114.80" font-size="11.05" fill="#000" textLength="6.63" lengthAdjust="spacingAndGlyphs">0</text>
<text x="766.14" y="125.50" font-size="11.05" fill="#000" textLength="13.26" lengthAdjust="spacingAndGlyphs">10</text>
<text x="786.24" y="125.50" font-size="11.05" fill="#000" textLength="3.51" lengthAdjust="spacingAndGlyphs">:</text>
<text x="815.29" y="125.50" font-size="11.05" fill="#000" textLength="6.63" lengthAdjust="spacingAndGlyphs">0</text>
<text x="766.28" y="135.70" font-size="11.05" fill="#000" textLength="13.26" lengthAdjust="spacingAndGlyphs">11</text>
<text x="786.24" y="135.70" font-size="11.05" fill="#000" textLength="3.51" lengthAdjust="spacingAndGlyphs">:</text>
<text x="815.29" y="135.70" font-size="11.05" fill="#000" textLength="6.63" lengthAdjust="spacingAndGlyphs">0</text>
<text x="766.32" y="145.90" font-size="11.05" fill="#000" textLength="13.26" lengthAdjust="spacingAndGlyphs">12</text>
<text x="786.24" y="145.90" font-size="11.05" fill="#000" textLength="3.51" lengthAdjust="spacingAndGlyphs">:</text>
<text x="815.29" y="145.90" font-size="11.05" fill="#000" textLength="6.63" lengthAdjust="spacingAndGlyphs">0</text>
<text x="218.56" y="51.70" font-size="11.05" fill="#000" textLength="13.26" lengthAdjust="spacingAndGlyphs">15</text>
<text x="218.56" y="87.00" font-size="11.05" fill="#000" textLength="13.26" lengthAdjust="spacingAndGlyphs">10</text>
<text x="219.50" y="122.00" font-size="11.05" fill="#000" textLength="6.63" lengthAdjust="spacingAndGlyphs">5</text>
<text x="219.61" y="157.00" font-size="11.05" fill="#000" textLength="6.63" lengthAdjust="spacingAndGlyphs">0</text>
<text x="185.50" y="105.00" font-size="12.93" fill="#000" textLength="19.88" lengthAdjust="spacingAndGlyphs">Km</text>
<text x="208.46" y="654.85" font-size="11.05" fill="#000" textLength="26.26" lengthAdjust="spacingAndGlyphs">40°N</text>
<text x="198.52" y="607.08" font-size="11.05" fill="#000" textLength="36.21" lengthAdjust="spacingAndGlyphs">40.5°N</text>
<text x="208.46" y="558.94" font-size="11.05" fill="#000" textLength="26.26" lengthAdjust="spacingAndGlyphs">41°N</text>
<text x="198.52" y="510.45" font-size="11.05" fill="#000" textLength="36.21" lengthAdjust="spacingAndGlyphs">41.5°N</text>
<text x="208.46" y="461.57" font-size="11.05" fill="#000" textLength="26.26" lengthAdjust="spacingAndGlyphs">42°N</text>
<text x="198.52" y="412.31" font-size="11.05" fill="#000" textLength="36.21" lengthAdjust="spacingAndGlyphs">42.5°N</text>
<text x="208.46" y="362.66" font-size="11.05" fill="#000" textLength="26.26" lengthAdjust="spacingAndGlyphs">43°N</text>
<text x="198.52" y="312.60" font-size="11.05" fill="#000" textLength="36.21" lengthAdjust="spacingAndGlyphs">43.5°N</text>
<text x="208.46" y="262.12" font-size="11.05" fill="#000" textLength="26.26" lengthAdjust="spacingAndGlyphs">44°N</text>
<text x="198.52" y="211.22" font-size="11.05" fill="#000" textLength="36.21" lengthAdjust="spacingAndGlyphs">44.5°N</text>
<text x="232.42" y="667.00" font-size="11.05" fill="#000" textLength="18.42" lengthAdjust="spacingAndGlyphs">5°E</text>
<text x="263.91" y="667.00" font-size="11.05" fill="#000" textLength="28.36" lengthAdjust="spacingAndGlyphs">5.5°E</text>
<text x="305.38" y="667.00" font-size="11.05" fill="#000" textLength="18.42" lengthAdjust="spacingAndGlyphs">6°E</text>
<text x="336.87" y="667.00" font-size="11.05" fill="#000" textLength="28.36" lengthAdjust="spacingAndGlyphs">6.5°E</text>
<text x="378.24" y="667.00" font-size="11.05" fill="#000" textLength="18.42" lengthAdjust="spacingAndGlyphs">7°E</text>
<text x="409.74" y="667.00" font-size="11.05" fill="#000" textLength="28.36" lengthAdjust="spacingAndGlyphs">7.5°E</text>
<text x="451.24" y="667.00" font-size="11.05" fill="#000" textLength="18.42" lengthAdjust="spacingAndGlyphs">8°E</text>
<text x="482.73" y="667.00" font-size="11.05" fill="#000" textLength="28.36" lengthAdjust="spacingAndGlyphs">8.5°E</text>
<text x="524.19" y="667.00" font-size="11.05" fill="#000" textLength="18.42" lengthAdjust="spacingAndGlyphs">9°E</text>
<text x="555.69" y="667.00" font-size="11.05" fill="#000" textLength="28.36" lengthAdjust="spacingAndGlyphs">9.5°E</text>
<text x="593.56" y="667.00" font-size="11.05" fill="#000" textLength="25.05" lengthAdjust="spacingAndGlyphs">10°E</text>
<text x="625.05" y="667.00" font-size="11.05" fill="#000" textLength="34.99" lengthAdjust="spacingAndGlyphs">10.5°E</text>
<text x="666.48" y="667.00" font-size="11.05" fill="#000" textLength="25.05" lengthAdjust="spacingAndGlyphs">11°E</text>
<text x="697.98" y="667.00" font-size="11.05" fill="#000" textLength="34.99" lengthAdjust="spacingAndGlyphs">11.5°E</text>
<text x="752.79" y="667.10" font-size="11.05" fill="#000" textLength="6.63" lengthAdjust="spacingAndGlyphs">0</text>
<text x="788.74" y="667.10" font-size="11.05" fill="#000" textLength="6.63" lengthAdjust="spacingAndGlyphs">5</text>
<text x="824.14" y="667.10" font-size="11.05" fill="#000" textLength="13.26" lengthAdjust="spacingAndGlyphs">10</text>
<text x="861.15" y="667.10" font-size="11.05" fill="#000" textLength="13.26" lengthAdjust="spacingAndGlyphs">15</text>
<text x="806.78" y="675.70" font-size="12.93" fill="#000" textLength="19.88" lengthAdjust="spacingAndGlyphs">Km</text>
<defs><linearGradient id="cb" x1="0" x2="1" y1="0" y2="0"><stop offset="0.000" stop-color="rgb(128,0,255)"/><stop offset="0.025" stop-color="rgb(115,20,255)"/><stop offset="0.050" stop-color="rgb(102,40,254)"/><stop offset="0.075" stop-color="rgb(89,60,253)"/><stop offset="0.100" stop-color="rgb(77,79,252)"/><stop offset="0.125" stop-color="rgb(64,98,250)"/><stop offset="0.150" stop-color="rgb(51,116,248)"/><stop offset="0.175" stop-color="rgb(38,133,245)"/><stop offset="0.200" stop-color="rgb(25,150,243)"/><stop offset="0.225" stop-color="rgb(13,166,239)"/><stop offset="0.250" stop-color="rgb(0,180,236)"/><stop offset="0.275" stop-color="rgb(13,194,232)"/><stop offset="0.300" stop-color="rgb(25,206,227)"/><stop offset="0.325" stop-color="rgb(38,217,222)"/><stop offset="0.350" stop-color="rgb(51,227,217)"/><stop offset="0.375" stop-color="rgb(64,236,212)"/><stop offset="0.400" stop-color="rgb(77,243,206)"/><stop offset="0.425" stop-color="rgb(89,248,200)"/><stop offset="0.450" stop-color="rgb(102,252,194)"/><stop offset="0.475" stop-color="rgb(115,254,187)"/><stop offset="0.500" stop-color="rgb(128,255,180)"/><stop offset="0.525" stop-color="rgb(140,254,173)"/><stop offset="0.550" stop-color="rgb(153,252,166)"/><stop offset="0.575" stop-color="rgb(166,248,158)"/><stop offset="0.600" stop-color="rgb(179,243,150)"/><stop offset="0.625" stop-color="rgb(191,236,142)"/><stop offset="0.650" stop-color="rgb(204,227,133)"/><stop offset="0.675" stop-color="rgb(217,217,125)"/><stop offset="0.700" stop-color="rgb(229,206,116)"/><stop offset="0.725" stop-color="rgb(242,194,107)"/><stop offset="0.750" stop-color="rgb(255,180,98)"/><stop offset="0.775" stop-color="rgb(255,166,88)"/><stop offset="0.800" stop-color="rgb(255,150,79)"/><stop offset="0.825" stop-color="rgb(255,133,69)"/><stop offset="0.850" stop-color="rgb(255,116,60)"/><stop offset="0.875" stop-color="rgb(255,98,50)"/><stop offset="0.900" stop-color="rgb(255,79,40)"/><stop offset="0.925" stop-color="rgb(255,60,30)"/><stop offset="0.950" stop-color="rgb(255,40,20)"/><stop offset="0.975" stop-color="rgb(255,20,10)"/><stop offset="1.000" stop-color="rgb(255,0,0)"/></linearGradient></defs>
<rect x="158.5" y="690.5" width="787" height="38" fill="url(#cb)" stroke="#111" stroke-width="1"/>
<path d="M158.5,728.5V732.8M315.9,728.5V732.8M473.3,728.5V732.8M630.7,728.5V732.8M788.1,728.5V732.8M945.5,728.5V732.8" stroke="#111" stroke-width="1"/>
<text x="155.19" y="743.20" font-size="11.05" fill="#000" textLength="6.63" lengthAdjust="spacingAndGlyphs">0</text>
<text x="312.73" y="743.20" font-size="11.05" fill="#000" textLength="6.63" lengthAdjust="spacingAndGlyphs">2</text>
<text x="470.02" y="743.20" font-size="11.05" fill="#000" textLength="6.63" lengthAdjust="spacingAndGlyphs">4</text>
<text x="627.35" y="743.20" font-size="11.05" fill="#000" textLength="6.63" lengthAdjust="spacingAndGlyphs">6</text>
<text x="784.79" y="743.20" font-size="11.05" fill="#000" textLength="6.63" lengthAdjust="spacingAndGlyphs">8</text>
<text x="938.64" y="743.20" font-size="11.05" fill="#000" textLength="13.26" lengthAdjust="spacingAndGlyphs">10</text>
<text x="432.87" y="718.80" font-size="19.88" fill="#000" textLength="249.17" lengthAdjust="spacingAndGlyphs">from 06:20:00 to 06:29:59</text>
</svg></body></html>
